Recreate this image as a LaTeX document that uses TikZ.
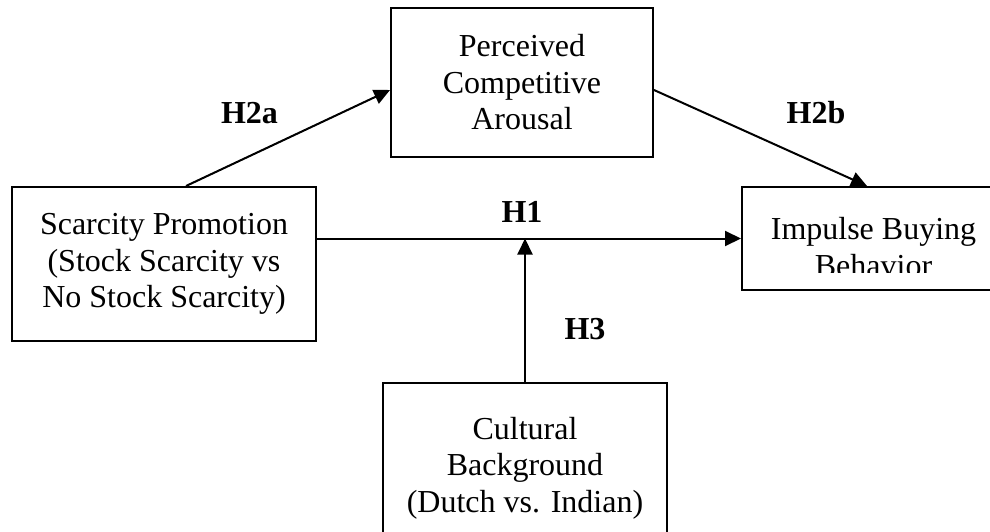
\documentclass[tikz,border=0pt]{standalone}
\usepackage{fontspec}
\setmainfont{Liberation Serif}
\usetikzlibrary{arrows.meta}
\tikzset{
  x=1pt, y=1pt,
  box/.style={draw, line width=2pt, rectangle, inner sep=0pt, align=center,
    font=\fontsize{32}{36.5}\selectfont},
  txt/.style={inner sep=0pt, font=\fontsize{32}{36.5}\selectfont},
  lbl/.style={inner sep=0pt, anchor=base, font=\fontsize{32}{36.5}\selectfont\bfseries},
  arr/.style={line width=2pt, -{Triangle[length=16pt, width=15pt]}},
}
\begin{document}
\begin{tikzpicture}
\useasboundingbox (0,0) rectangle (990,-532);
\clip (0,0) rectangle (990,-532);
\fill[white] (0,0) rectangle (990,-532);

\node[box, minimum width=304, minimum height=154] (sp) at (164,-264)
  {Scarcity Promotion\\(Stock Scarcity vs\\No Stock Scarcity)};
\node[box, minimum width=262, minimum height=149] (pca) at (522,-82.5)
  {Perceived\\Competitive\\Arousal};
\node[box, minimum width=263, minimum height=103] (imp) at (873.5,-238.5) {};
\begin{scope}
  \clip (742,-187) rectangle (1005,-272);
  \node[txt, anchor=base] (imp1) at (873.5,-239) {Impulse Buying};
  \node[txt, anchor=base] (imp2) at (873.5,-276) {Behavior};
\end{scope}
\node[box, minimum width=284, minimum height=170] (cb) at (525,-468)
  {Cultural\\Background\\(Dutch vs. Indian)};

\draw[arr] (sp.east |- imp.west) -- (imp.west);
\draw[arr] ([xshift=22pt]sp.north) -- ([yshift=-7.5pt]pca.west);
\draw[arr] ([yshift=-7.5pt]pca.east) -- ([xshift=-6.5pt]imp.north);
\draw[arr] (cb.north) -- (cb.north |- imp.west);

\node[lbl] (h2a) at (249.5,-124) {H2a};
\node[lbl] (h2b) at (816,-124) {H2b};
\node[lbl] (h1) at (522,-222) {H1};
\node[lbl] (h3) at (585,-339) {H3};
\end{tikzpicture}
\end{document}
